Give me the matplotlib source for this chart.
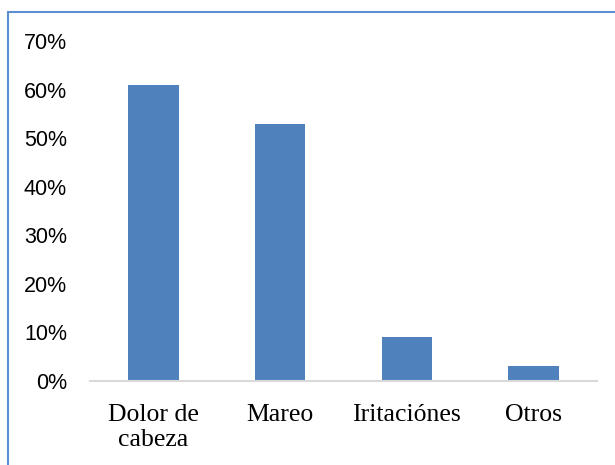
import matplotlib.pyplot as plt
from matplotlib.patches import Rectangle

categories = ["Dolor de\ncabeza", "Mareo", "Iritaciónes", "Otros"]
values = [0.61, 0.53, 0.09, 0.03]
yticks = [0, 0.1, 0.2, 0.3, 0.4, 0.5, 0.6, 0.7]
ytick_labels = ["0%", "10%", "20%", "30%", "40%", "50%", "60%", "70%"]

W, H = 615, 465
fig = plt.figure(figsize=(W / 100, H / 100), dpi=100)

# blue frame around the chart (right and bottom run past the picture)
fig.patches.append(Rectangle((8 / W, -0.05), 1.0, 1 - 12.5 / H + 0.05,
                             transform=fig.transFigure, fill=False,
                             edgecolor="#5b8fd0", linewidth=1.5))

ax = fig.add_axes([90 / W, 1 - 381 / H, (597 - 90) / W, (381 - 41) / H])
x = range(len(categories))
ax.bar(x, values, width=0.4, color="#4f81bd")

ax.set_xlim(-0.5, 3.5)
ax.set_ylim(0, 0.7)
ax.set_yticks(yticks)
ax.set_yticklabels(ytick_labels, fontfamily="Liberation Sans", fontsize=15.5)
ax.set_xticks(list(x))
ax.set_xticklabels(categories, fontfamily="Liberation Serif", fontsize=18.5,
                   linespacing=1.17)
ax.tick_params(axis="both", length=0)
ax.tick_params(axis="y", pad=16.5)
ax.tick_params(axis="x", pad=16.5)

for side in ["top", "right", "left"]:
    ax.spines[side].set_visible(False)
ax.spines["bottom"].set_color("#d9d9d9")
ax.spines["bottom"].set_linewidth(1.5)

fig.savefig("out.png", dpi=100)
